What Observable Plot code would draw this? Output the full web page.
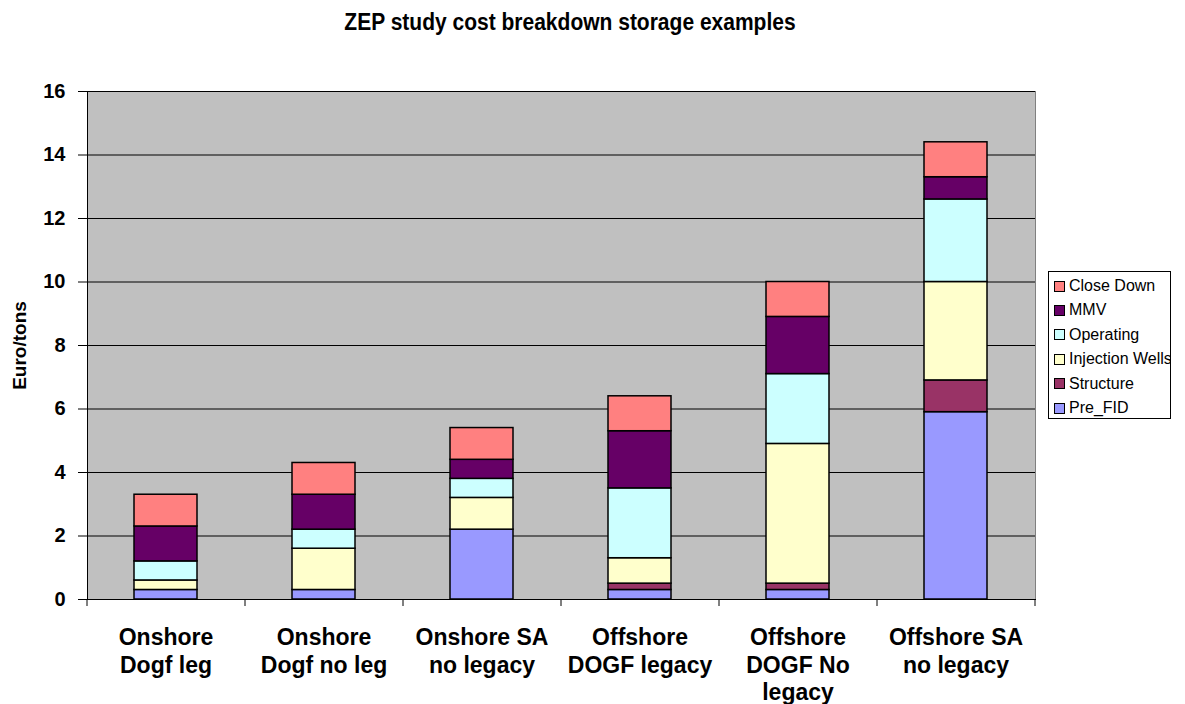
<!DOCTYPE html>
<html>
<head>
<meta charset="utf-8">
<script src="https://cdn.jsdelivr.net/npm/d3@7"></script>
<script src="https://cdn.jsdelivr.net/npm/@observablehq/plot@0.6"></script>
<style>
  html, body { margin: 0; padding: 0; background: #fff; }
  #wrap { position: relative; width: 1185px; height: 704px; font-family: "Liberation Sans", Arial, sans-serif; }
  #title { position: absolute; left: 0; top: 12px; width: 1140px; text-align: center; font-size: 21px; line-height: 21px; font-weight: bold; color: #000; transform: scale(1, 1.12); transform-origin: 50% 80%; }
  #legend { position: absolute; left: 1048px; top: 271px; width: 121px; height: 146px; border: 1px solid #000; background: #fff; box-sizing: content-box; overflow: hidden; }
  .item { position: absolute; left: 5px; height: 20px; display: flex; align-items: center; font-size: 16px; white-space: nowrap; color: #000; }
  .sw { width: 9px; height: 9px; border: 1px solid #000; margin-right: 4px; flex: none; }
</style>
</head>
<body>
<div id="wrap">
  <div id="chart"></div>
  <div id="title">ZEP study cost breakdown storage examples</div>
  <div id="legend"></div>
</div>
<script>
const categories = ["Onshore\nDogf leg", "Onshore\nDogf no leg", "Onshore SA\nno legacy", "Offshore\nDOGF legacy", "Offshore\nDOGF No\nlegacy", "Offshore SA\nno legacy"];
const seriesNames = ["Pre_FID", "Structure", "Injection Wells", "Operating", "MMV", "Close Down"];
const seriesColors = ["#9999ff", "#993366", "#ffffcc", "#ccffff", "#660066", "#ff8080"];
const preFID    = [0.3, 0.3, 2.2, 0.3, 0.3, 5.9];
const structure = [0.0, 0.0, 0.0, 0.2, 0.2, 1.0];
const injection = [0.3, 1.3, 1.0, 0.8, 4.4, 3.1];
const operating = [0.6, 0.6, 0.6, 2.2, 2.2, 2.6];
const mmv       = [1.1, 1.1, 0.6, 1.8, 1.8, 0.7];
const closeDown = [1.0, 1.0, 1.0, 1.1, 1.1, 1.1];
const yTicks = [0, 2, 4, 6, 8, 10, 12, 14, 16];
const yLabel = "Euro/tons";

const seriesValues = [preFID, structure, injection, operating, mmv, closeDown];
const rows = [];
categories.forEach((c, i) => {
  seriesNames.forEach((s, j) => {
    if (seriesValues[j][i] > 0) rows.push({category: c, series: s, value: seriesValues[j][i]});
  });
});

const W = 1185, H = 704, mL = 87, mR = 150, mT = 91, mB = 105;
const step = (W - mL - mR) / categories.length;
const font = "Liberation Sans, Arial, sans-serif";

const chart = Plot.plot({
  width: W, height: H,
  marginLeft: mL, marginRight: mR, marginTop: mT, marginBottom: mB,
  style: {fontFamily: font, color: "#000", background: "#fff"},
  x: {domain: categories, paddingInner: 0.6, paddingOuter: 0.3, label: null},
  y: {domain: [0, 16], label: null},
  color: {domain: seriesNames, range: seriesColors},
  marks: [
    Plot.frame({fill: "#c0c0c0", stroke: "#808080"}),
    Plot.gridY(yTicks, {stroke: "#000", strokeOpacity: 1, strokeWidth: 1}),
    Plot.barY(rows, {x: "category", y: "value", fill: "series", stroke: "#000", strokeWidth: 1.5}),
    Plot.frame({anchor: "left", stroke: "#000"}),
    Plot.frame({anchor: "bottom", stroke: "#000"}),
    Plot.axisY({ticks: yTicks, tickSize: 9, tickPadding: 13, fontSize: 20, fontWeight: "bold", label: yLabel, labelAnchor: "center", labelOffset: 75, labelArrow: "none"}),
    Plot.axisX({tickSize: 0, tickPadding: 26, fontSize: 23, fontWeight: "bold", lineHeight: 1.2, label: null}),
    Plot.axisX({ticks: categories, tickSize: 7, tickFormat: () => "", dx: -step / 2, label: null}),
    Plot.axisX({ticks: categories.slice(-1), tickSize: 7, tickFormat: () => "", dx: step / 2, label: null})
  ]
});
document.getElementById("chart").appendChild(chart);
// style the y-axis label
chart.querySelectorAll("text").forEach(t => {
  if (t.textContent === yLabel) { t.setAttribute("font-size", "19"); t.setAttribute("font-weight", "bold"); }
});

const legend = document.getElementById("legend");
const order = seriesNames.slice().reverse();
order.forEach((s, k) => {
  const d = document.createElement("div");
  d.className = "item";
  d.style.top = (4 + k * 24.4) + "px";
  const sw = document.createElement("span");
  sw.className = "sw";
  sw.style.background = seriesColors[seriesNames.indexOf(s)];
  d.appendChild(sw);
  d.appendChild(document.createTextNode(s));
  legend.appendChild(d);
});
</script>
</body>
</html>
